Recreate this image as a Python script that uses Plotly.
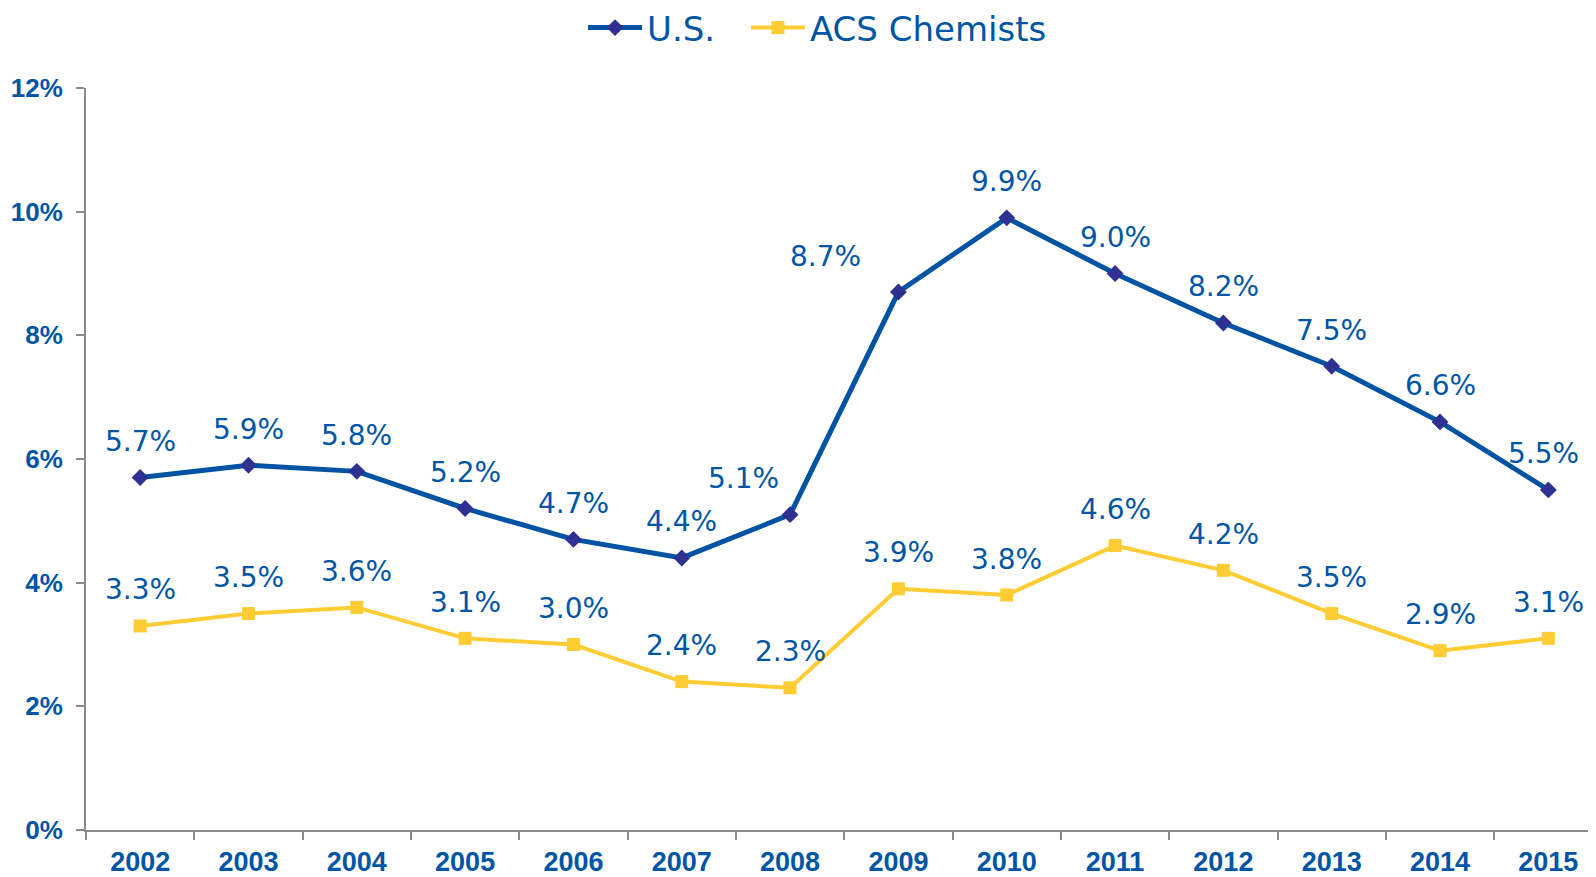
import plotly.graph_objects as go

years = ["2002", "2003", "2004", "2005", "2006", "2007", "2008",
         "2009", "2010", "2011", "2012", "2013", "2014", "2015"]
us = [5.7, 5.9, 5.8, 5.2, 4.7, 4.4, 5.1, 8.7, 9.9, 9.0, 8.2, 7.5, 6.6, 5.5]
acs = [3.3, 3.5, 3.6, 3.1, 3.0, 2.4, 2.3, 3.9, 3.8, 4.6, 4.2, 3.5, 2.9, 3.1]
y_ticks = [0, 2, 4, 6, 8, 10, 12]
y_tick_labels = ["0%", "2%", "4%", "6%", "8%", "10%", "12%"]

# label x-offsets (px) for a few U.S. labels placed left of their points
us_label_xshift = [0, 0, 0, 0, 0, 0, -47, -73, 0, 0, 0, 0, 0, -5]

BLUE = "#0052A3"
TEXT = "#0055A5"
YELLOW = "#FFCC33"

W, H = 1588, 869  # page body adds an 8px offset

fig = go.Figure()
fig.add_trace(go.Scatter(
    x=years, y=us, name="U.S.", mode="lines+markers",
    line=dict(color=BLUE, width=5),
    marker=dict(symbol="diamond", size=13, color="#2E3192"),
    legend="legend",
))
fig.add_trace(go.Scatter(
    x=years, y=acs, name="ACS Chemists", mode="lines+markers",
    line=dict(color=YELLOW, width=4),
    marker=dict(symbol="square", size=13, color=YELLOW),
    legend="legend2",
))

label_font = dict(family="DejaVu Sans", size=28, color=TEXT)
for i, v in enumerate(us):
    fig.add_annotation(x=i, y=v, xref="x", yref="y", text=f"{v:.1f}%", showarrow=False,
                       yshift=36, xshift=us_label_xshift[i], font=label_font)
for i, v in enumerate(acs):
    fig.add_annotation(x=i, y=v, xref="x", yref="y", text=f"{v:.1f}%", showarrow=False,
                       yshift=36, font=label_font)

leg_common = dict(orientation="h", yanchor="middle", yref="container", xref="container",
                  xanchor="left", y=0.977,
                  font=dict(family="DejaVu Sans", size=34, color=TEXT),
                  itemwidth=54, bgcolor="rgba(0,0,0,0)")

fig.update_layout(
    width=W, height=H,
    margin=dict(l=78, r=0, t=80, b=47, autoexpand=False),
    paper_bgcolor="white", plot_bgcolor="white",
    showlegend=True,
    legend=dict(leg_common, x=0.3621),
    legend2=dict(leg_common, x=0.4647),
    xaxis=dict(type="category", range=[-0.5, 13.44], showgrid=False,
               showline=True, linecolor="#8C8C8C", linewidth=2,
               ticks="outside", tickson="boundaries", ticklen=8, tickcolor="#8C8C8C",
               tickwidth=2, ticklabelstandoff=7,
               tickfont=dict(family="Liberation Sans", size=27, color=TEXT, weight="bold")),
    yaxis=dict(range=[0, 12], tickvals=y_ticks, ticktext=y_tick_labels,
               showgrid=False, zeroline=False,
               showline=True, linecolor="#8C8C8C", linewidth=2,
               ticks="outside", ticklen=8, tickcolor="#8C8C8C", tickwidth=2,
               ticklabelstandoff=8,
               tickfont=dict(family="Liberation Sans", size=26, color=TEXT, weight="bold")),
)

fig.write_html("out.html")
